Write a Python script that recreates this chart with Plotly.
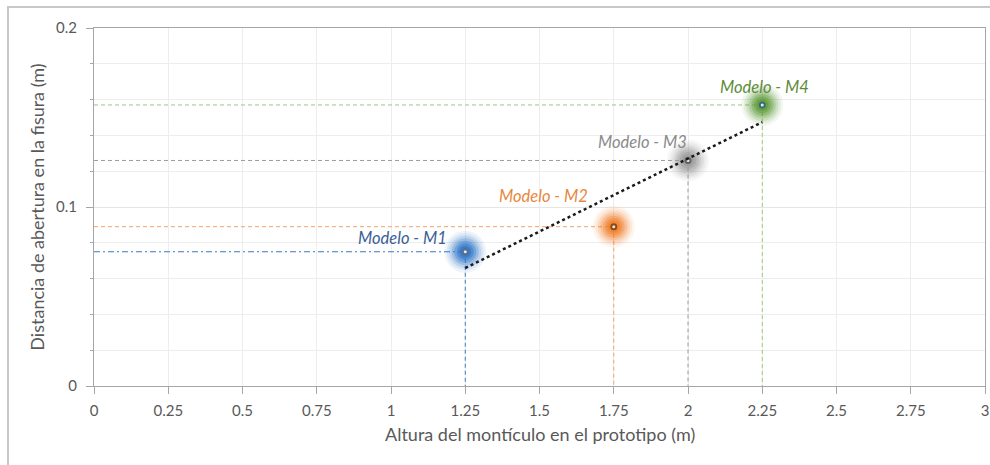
import numpy as np
import plotly.graph_objects as go

# ---- data ----
modelos = ["Modelo - M1", "Modelo - M2", "Modelo - M3", "Modelo - M4"]
alturas = [1.25, 1.75, 2.0, 2.25]          # m
aberturas = [0.075, 0.089, 0.126, 0.157]   # m
x_ticks = [0, 0.25, 0.5, 0.75, 1, 1.25, 1.5, 1.75, 2, 2.25, 2.5, 2.75, 3]
x_ticklabels = ["0", "0.25", "0.5", "0.75", "1", "1.25", "1.5", "1.75", "2", "2.25", "2.5", "2.75", "3"]
y_ticks = [0, 0.1, 0.2]
y_ticklabels = ["0", "0.1", "0.2"]
x_title = "Altura del montículo en el prototipo (m)"
y_title = "Distancia de abertura en la fisura (m)"

# ---- styles ----
glow_colors = ["#2E75C8", "#F07F2A", "#9A9A9A", "#5E9A38"]
ref_colors = ["#3C78C0", "#F3A26A", "#9A9A9A", "#9CC77C"]
label_colors = ["#3B5E94", "#E8873E", "#8A8A8A", "#5E8C3A"]
core_colors = ["#5A6C8A", "#8A4A1A", "#606060", "#3C6B7A"]
h_dash = ["6px,3px,2px,3px", "4px,3px", "4px,3px", "4px,3px"]
label_shift = [(-63, 14), (-70, 31), (-46, 18), (2, 18)]
FONT = "Lato, Open Sans, sans-serif"

fig = go.Figure()

# reference lines (horizontal to y-axis, vertical to x-axis)
for i in range(len(alturas)):
    fig.add_trace(go.Scatter(x=[0, alturas[i]], y=[aberturas[i], aberturas[i]], mode="lines",
                             line=dict(color=ref_colors[i], width=1, dash=h_dash[i]),
                             showlegend=False, hoverinfo="skip"))
    fig.add_trace(go.Scatter(x=[alturas[i], alturas[i]], y=[aberturas[i], 0], mode="lines",
                             line=dict(color=ref_colors[i], width=1, dash="4px,3px"),
                             showlegend=False, hoverinfo="skip"))

# linear trend line
coef = np.polyfit(alturas, aberturas, 1)
tx = [min(alturas), max(alturas)]
ty = [coef[0] * v + coef[1] for v in tx]

# glowing markers
glow_layers = [(42, 0.08), (37, 0.11), (32, 0.16), (27, 0.24), (22, 0.34), (17, 0.48), (12, 0.65)]
for i in range(len(alturas)):
    for size, op in glow_layers:
        fig.add_trace(go.Scatter(x=[alturas[i]], y=[aberturas[i]], mode="markers",
                                 marker=dict(size=size, color=glow_colors[i], opacity=op),
                                 showlegend=False, hoverinfo="skip"))
    fig.add_trace(go.Scatter(x=[alturas[i]], y=[aberturas[i]], mode="markers",
                             marker=dict(size=7, color=core_colors[i]),
                             showlegend=False, hoverinfo="skip"))
    fig.add_trace(go.Scatter(x=[alturas[i]], y=[aberturas[i]], mode="markers",
                             marker=dict(size=3, color="rgba(255,255,255,0.85)"),
                             showlegend=False, hoverinfo="skip"))

fig.add_trace(go.Scatter(x=tx, y=ty, mode="lines",
                         line=dict(color="#1A1A1A", width=2.5, dash="dot"),
                         showlegend=False, hoverinfo="skip"))

for i in range(len(alturas)):
    fig.add_annotation(x=alturas[i], y=aberturas[i], xref="x", yref="y",
                       text="<i>" + modelos[i] + "</i>", showarrow=False,
                       xshift=label_shift[i][0], yshift=label_shift[i][1],
                       font=dict(family=FONT, size=16.5, color=label_colors[i]))

# x-axis title
fig.add_annotation(x=0.5, y=(386 - 434) / 358, xref="paper", yref="paper",
                   text=x_title, showarrow=False, xanchor="center", yanchor="middle",
                   font=dict(family=FONT, size=18, color="#595959"))

# outer chart border
fig.add_shape(type="rect", xref="paper", yref="paper",
              x0=(8 - 94) / 891, x1=(994 - 94) / 891,
              y0=-(466 - 386) / 358, y1=1 + (28 - 7) / 358,
              line=dict(color="#C8C8C8", width=2), layer="below")

axis_font = dict(family=FONT, size=15, color="#595959")
fig.update_layout(
    width=990, height=465,
    margin=dict(l=94, r=5, t=28, b=79),
    paper_bgcolor="white", plot_bgcolor="white",
    font=dict(family=FONT, color="#595959"),
    xaxis=dict(range=[0, 3], tickvals=x_ticks, ticktext=x_ticklabels,
               showgrid=True, gridcolor="#EDEDED", gridwidth=1,
               showline=True, linecolor="#A6A6A6", linewidth=1, mirror=True,
               ticks="outside", ticklen=7, tickcolor="#A6A6A6", ticklabelstandoff=4,
               tickfont=axis_font, zeroline=False, automargin=False),
    yaxis=dict(range=[0, 0.2], tickvals=y_ticks, ticktext=y_ticklabels,
               showgrid=True, gridcolor="#E6E6E6", gridwidth=1,
               showline=True, linecolor="#A6A6A6", linewidth=1, mirror=True,
               ticks="outside", ticklen=7, tickcolor="#A6A6A6", ticklabelstandoff=6,
               tickfont=axis_font, zeroline=False, automargin=False,
               minor=dict(dtick=0.02, showgrid=True, gridcolor="#EDEDED",
                          ticks="outside", ticklen=3, tickcolor="#A6A6A6"),
               title=dict(text=y_title,
                          font=dict(family=FONT, size=18, color="#595959"),
                          standoff=6)),
)

fig.write_html("out.html", config={"displayModeBar": False},
               post_script="document.body.style.margin='0';")
